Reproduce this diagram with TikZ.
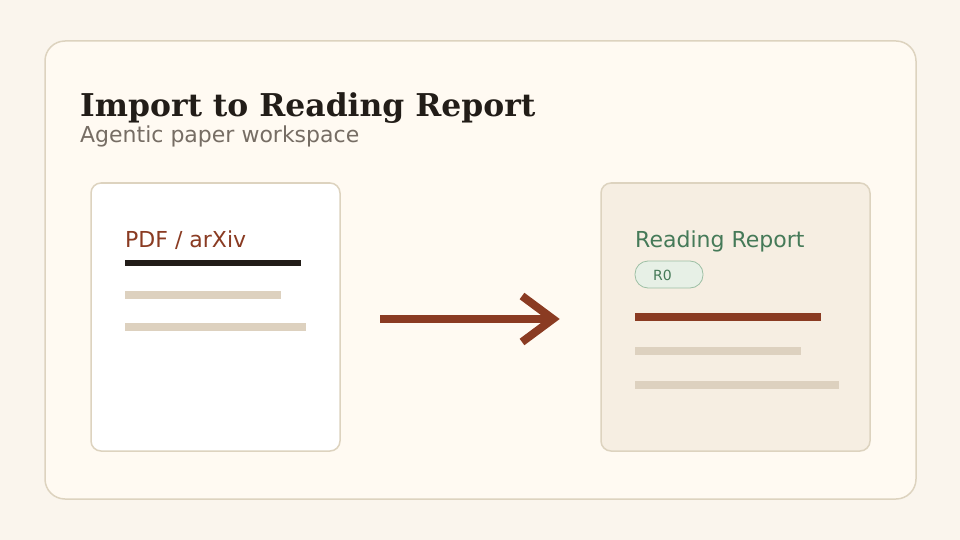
\documentclass[tikz,border=0pt]{standalone}
\usepackage{fontspec}
\setmainfont{DejaVu Serif}
\setsansfont{DejaVu Sans}
\usetikzlibrary{positioning}

\definecolor{pagebg}{HTML}{FAF5ED}
\definecolor{panelbg}{HTML}{FFFAF2}
\definecolor{edge}{HTML}{DDD3BF}
\definecolor{ink}{HTML}{221D18}
\definecolor{muted}{HTML}{766D64}
\definecolor{rust}{HTML}{8A3B22}
\definecolor{sage}{HTML}{457A58}
\definecolor{sand}{HTML}{DDD1BF}
\definecolor{cream}{HTML}{F6EEE2}
\definecolor{pillbg}{HTML}{E7F0E6}
\definecolor{pilledge}{HTML}{9DBFA4}

\tikzset{
  card/.style={draw=edge, line width=1.5pt, rounded corners=10pt, minimum height=268pt, inner sep=0pt},
  label/.style={anchor=base west, inner sep=0pt, font=\sffamily\fontsize{22}{24}\selectfont},
  bar/.style={line width=#1, line cap=butt},
  bar/.default=8pt
}

\begin{document}
\begin{tikzpicture}[x=1pt,y=-1pt]
\useasboundingbox[fill=pagebg] (0,0) rectangle (960,540);
\draw[fill=panelbg, draw=edge, line width=1.5pt, rounded corners=20pt] (45,41) rectangle (916,499);

\node (title) at (80,117) [anchor=base west,inner sep=0pt,text=ink,font=\bfseries\fontsize{31.4}{34}\selectfont] {Import to Reading Report};
\node (subtitle) at (80,143) [label,text=muted] {Agentic paper workspace};

% source card
\node (pdfcard) at (215.5,317) [card,fill=white,minimum width=249pt] {};
\node (pdflabel) at (125,247) [label,text=rust] {PDF / arXiv};
\draw[bar=6pt,ink] (125,263) -- (301,263);
\draw[bar,sand] (125,295) -- (281,295);
\draw[bar,sand] (125,327) -- (306,327);

% report card
\node (reportcard) at (735.5,317) [card,fill=cream,minimum width=269pt] {};
\node (reportlabel) at (635,247) [label,text=sage] {Reading Report};
\node (pill) at (669,274.5) [draw=pilledge,fill=pillbg,line width=.8pt,rounded corners=13pt,minimum width=68pt,minimum height=27pt,inner sep=0pt] {};
\node (pilltext) at (653,280) [anchor=base west,inner sep=0pt,text=sage,font=\sffamily\fontsize{14}{16}\selectfont] {R0};
\draw[bar,rust] (635,317) -- (821,317);
\draw[bar,sand] (635,351) -- (801,351);
\draw[bar,sand] (635,385) -- (839,385);

% arrow
\coordinate (tail) at (380,319);
\coordinate (tip) at (553,319);
\draw[bar,rust] (tail) -- (tip);
\draw[line width=8pt,rust,miter limit=10] ([shift={(-31,-23)}]tip) -- (tip) -- ([shift={(-31,23)}]tip);
\end{tikzpicture}
\end{document}
